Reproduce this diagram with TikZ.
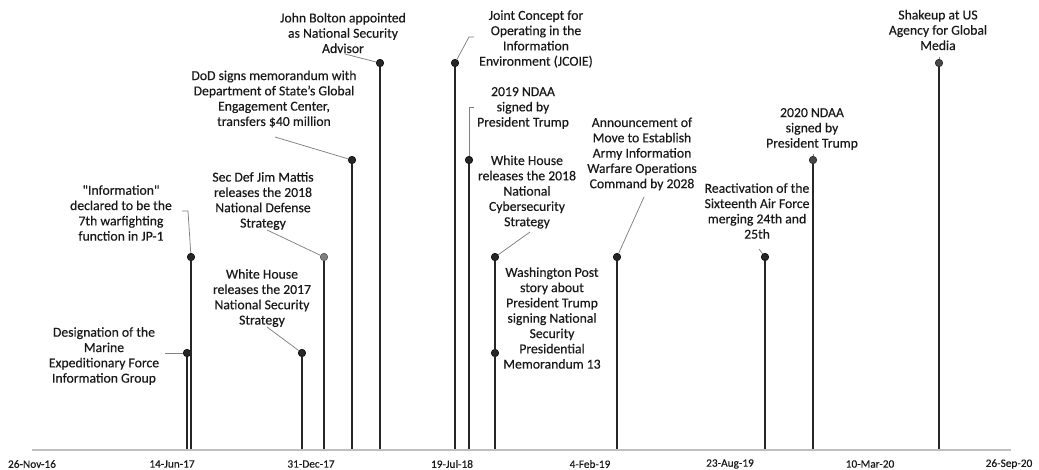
\documentclass[tikz,border=0pt]{standalone}
\usepackage{fontspec}
\setmainfont{Carlito}[FakeBold=0.35]
\begin{document}
\begin{tikzpicture}[x=1pt,y=-1pt,
  lbl/.style={align=center,inner sep=0pt,text=black!90,font=\fontsize{13.7}{15.3}\selectfont},
  datelbl/.style={inner sep=0pt,text=black!90,font=\fontsize{11.3}{12}\selectfont},
  evtdot/.style={circle,minimum size=7.5pt,inner sep=0pt,fill=black!85,draw=black!95,line width=0.6pt},
  graydot/.style={evtdot,fill=black!50,draw=black!65},
  dgraydot/.style={evtdot,fill=black!72,draw=black!85},
  stem/.style={draw=black!85,line width=1.2pt},
  leader/.style={draw=black!50,line width=0.75pt},
  axisline/.style={draw=black!25,line width=2.2pt}]
\useasboundingbox (0,0) rectangle (1039,469);
% axis
\coordinate (axL) at (32,450);
\coordinate (axR) at (1011,450);
\draw[axisline] (axL) -- (axR);
% date labels
\node[datelbl] (t1) at (32,464) {26-Nov-16};
\node[datelbl] (t2) at (172,464) {14-Jun-17};
\node[datelbl] (t3) at (311,464) {31-Dec-17};
\node[datelbl] (t4) at (452,464) {19-Jul-18};
\node[datelbl] (t5) at (590,464) {4-Feb-19};
\node[datelbl] (t6) at (730,464) {23-Aug-19};
\node[datelbl] (t7) at (870,464) {10-Mar-20};
\node[datelbl] (t8) at (1009,464) {26-Sep-20};
% base points on axis
\foreach \n/\x in {1/187,2/191,3/324,4/302,5/352,6/380,7/455,8/469,9/495,10/495,11/617,12/765,13/813,14/939}
  \coordinate (b\n) at (\x,449);
% dots
\node[evtdot] (d1) at (187,353) {};
\node[evtdot] (d2) at (191,257) {};
\node[graydot] (d3) at (324,257) {};
\node[evtdot] (d4) at (302,353) {};
\node[evtdot] (d5) at (352,160) {};
\node[evtdot] (d6) at (380,63) {};
\node[evtdot] (d7) at (455,63) {};
\node[evtdot] (d8) at (469,160) {};
\node[evtdot] (d9) at (495,257) {};
\node[evtdot] (d10) at (495,353) {};
\node[evtdot] (d11) at (617,257) {};
\node[evtdot] (d12) at (765,257) {};
\node[dgraydot] (d13) at (813,160) {};
\node[dgraydot] (d14) at (939,63) {};
% stems
\foreach \n in {1,...,14} \draw[stem] (d\n.south) -- (b\n);
% labels
\node[lbl] (l1) at (104,356) {Designation of the\\Marine\\Expeditionary Force\\Information Group};
\node[lbl] (l2) at (121,213) {\textquotedbl Information\textquotedbl\\declared to be the\\7th warfighting\\function in JP-1};
\node[lbl] (l3) at (263,201) {Sec Def Jim Mattis\\releases the 2018\\National Defense\\Strategy};
\node[lbl] (l4) at (262,298) {White House\\releases the 2017\\National Security\\Strategy};
\node[lbl] (l5) at (274,99) {DoD signs memorandum with\\Department of State's Global\\Engagement Center,\\transfers \$40 million};
\node[lbl] (l6) at (343,33) {John Bolton appointed\\as National Security\\Advisor};
\node[lbl] (l7) at (536,39) {Joint Concept for\\Operating in the\\Information\\Environment (JCOIE)};
\node[lbl] (l8) at (523,108) {2019 NDAA\\signed by\\President Trump};
\node[lbl] (l9) at (527,192) {White House\\releases the 2018\\National\\Cybersecurity\\Strategy};
\node[lbl] (l10) at (552,318) {Washington Post\\story about\\President Trump\\signing National\\Security\\Presidential\\Memorandum 13};
\node[lbl] (l11) at (642,154) {Announcement of\\Move to Establish\\Army Information\\Warfare Operations\\Command by 2028};
\node[lbl] (l12) at (757,211) {Reactivation of the\\Sixteenth Air Force\\merging 24th and\\25th};
\node[lbl] (l13) at (812,129) {2020 NDAA\\signed by\\President Trump};
\node[lbl] (l14) at (938,30) {Shakeup at US\\Agency for Global\\Media};
% leader start points
\coordinate (s1) at (165,353);
\coordinate (s2) at (182,211);
\coordinate (k2) at (188,211);
\coordinate (s3) at (267,230);
\coordinate (s4) at (267,327);
\coordinate (s5) at (275,137);
\coordinate (s6) at (345,54);
\coordinate (s7) at (474,37);
\coordinate (k7) at (469,37);
\coordinate (s8) at (474,107);
\coordinate (k8) at (469,107);
\coordinate (s9) at (530,232);
\coordinate (s11) at (644,197);
\coordinate (s12) at (759,249);
\coordinate (s13) at (813,154);
\coordinate (s14) at (939,57);
% leaders
\draw[leader] (s1) -- (d1);
\draw[leader] (s2) -- (k2) -- (d2);
\draw[leader] (s3) -- (d3);
\draw[leader] (s4) -- (d4);
\draw[leader] (s5) -- (d5);
\draw[leader] (s6) -- (d6);
\draw[leader] (s7) -- (k7) -- (d7);
\draw[leader] (s8) -- (k8) -- (d8);
\draw[leader] (s9) -- (d9);
\draw[leader] (s11) -- (d11);
\draw[leader] (s12) -- (d12);
\draw[leader] (s13) -- (d13);
\draw[leader] (s14) -- (d14);
\end{tikzpicture}
\end{document}
